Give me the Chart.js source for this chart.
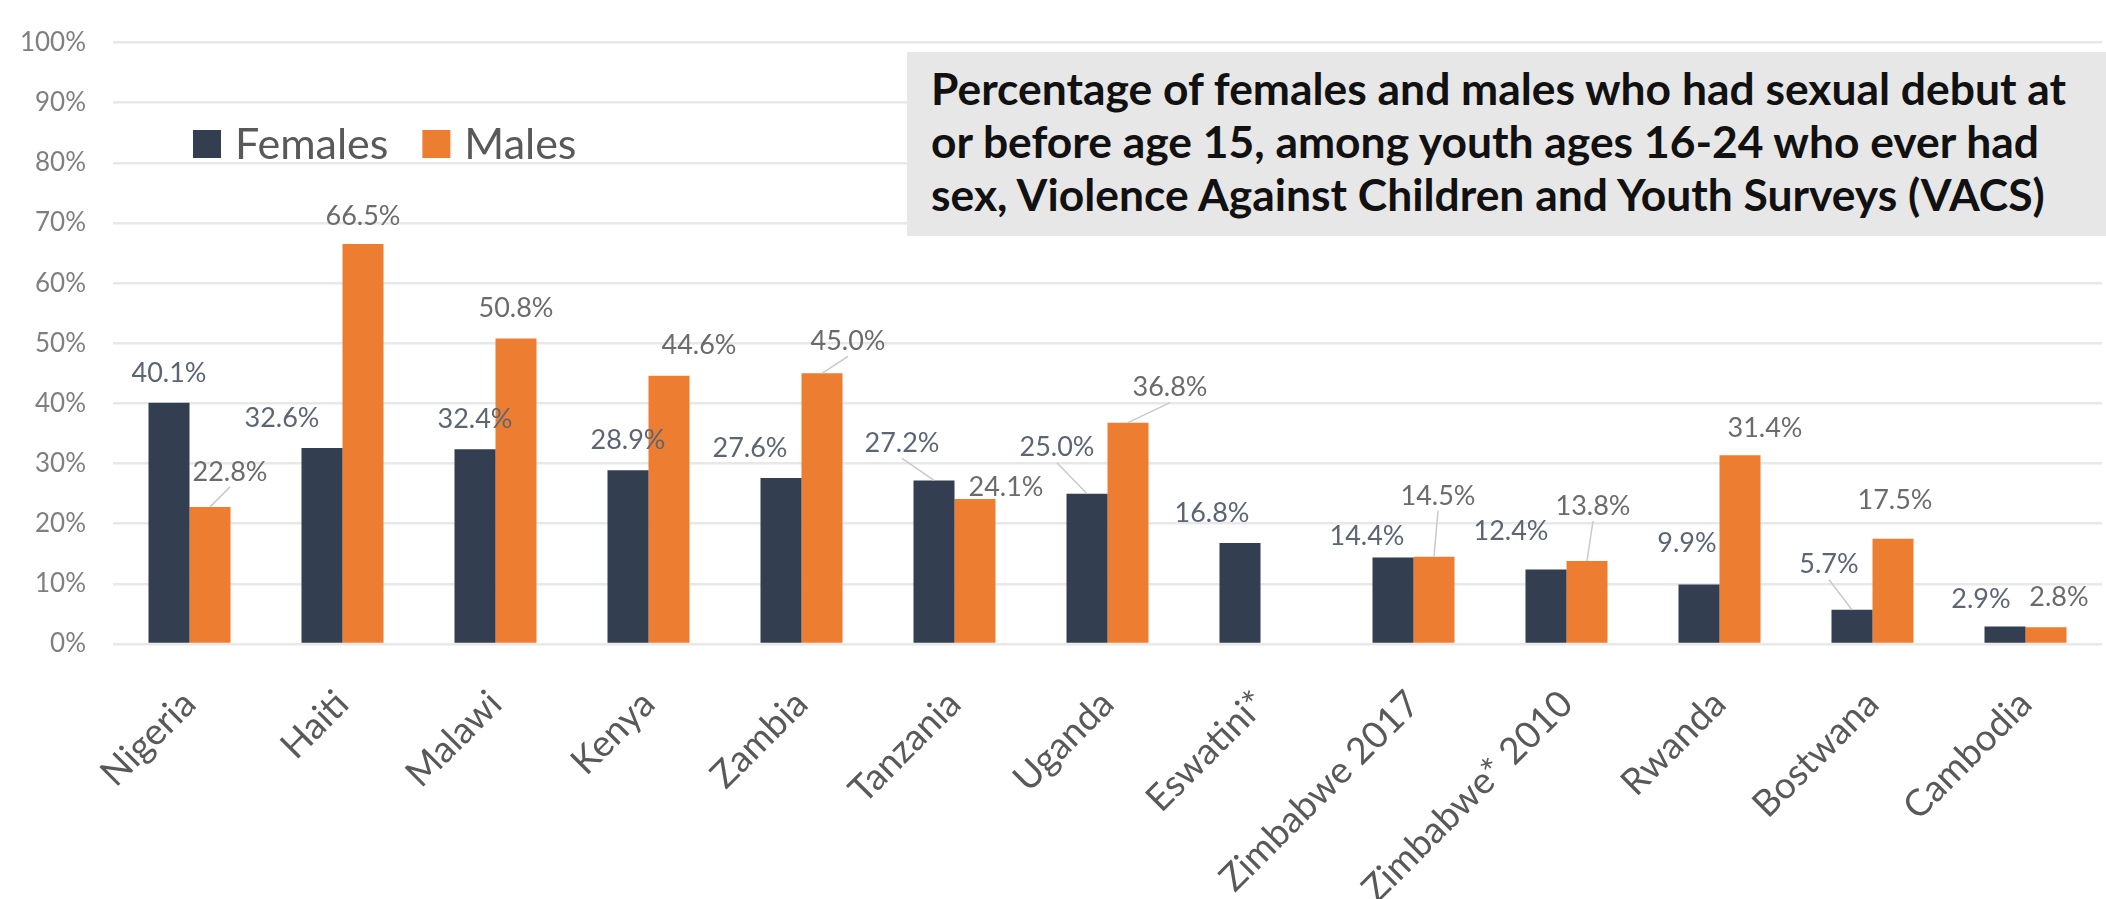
<!DOCTYPE html>
<html>
<head>
<meta charset="utf-8">
<script src="https://cdn.jsdelivr.net/npm/chart.js@4.4.0/dist/chart.umd.min.js"></script>
<style>
  html, body { margin: 0; padding: 0; background: #fff; }
  #wrap { position: relative; width: 2106px; height: 899px; overflow: hidden; }
  #title-box {
    position: absolute; left: 907px; top: 52px; width: 1199px; height: 184px;
    background: #e7e7e7; box-sizing: border-box; padding: 10px 0 0 24px;
    font-family: Lato, "Open Sans", sans-serif; font-weight: bold; font-size: 44px;
    line-height: 53px; color: #111; white-space: nowrap;
  }
  #title-inner { transform-origin: left top; display: inline-block; }
</style>
</head>
<body>
<div id="wrap">
  <canvas id="chart" width="2106" height="899"></canvas>
  <div id="title-box"><div id="title-inner">
    <span id="title-line1">Percentage of females and males who had sexual debut at</span><br>
    or before age 15, among youth ages 16-24 who ever had<br>
    sex, Violence Against Children and Youth Surveys (VACS)
  </div></div>
</div>
<script>
// data
const countries = ["Nigeria", "Haiti", "Malawi", "Kenya", "Zambia", "Tanzania", "Uganda",
  "Eswatini*", "Zimbabwe 2017", "Zimbabwe* 2010", "Rwanda", "Bostwana", "Cambodia"];
const females = [40.1, 32.6, 32.4, 28.9, 27.6, 27.2, 25.0, 16.8, 14.4, 12.4, 9.9, 5.7, 2.9];
const males = [22.8, 66.5, 50.8, 44.6, 45.0, 24.1, 36.8, null, 14.5, 13.8, 31.4, 17.5, 2.8];
const yMax = 100;
const yStep = 10;

// label nudges [dx, dy, leader line] like the hand-placed labels in the original
const femaleLabelPos = [[0, 0, 0], [-40, 0, 0], [0, 0, 0], [0, 0, 0], [-31, 0, 0], [-32, -7, 1], [-30, -16, 1],
  [-28, 0, 0], [-26, 9, 0], [-35, -8, 0], [-12, -11, 0], [-23, -15, 1], [-24, 3, 0]];
const maleLabelPos = [[20, -5, 1], [0, 2, 0], [0, 0, 0], [30, 0, 0], [26, -2, 1], [31, 18, 0], [42, -5, 1],
  [0, 0, 0], [4, -31, 1], [6, -25, 1], [25, 3, 0], [2, -8, 0], [13, 0, 0]];

const femaleColor = "#333f50";
const maleColor = "#ed7d31";
const fontFamily = "Lato, 'Open Sans', sans-serif";

// fit the title's first line to the width it has in the original
function fitTitle() {
  const line = document.getElementById("title-line1");
  const w = line.getBoundingClientRect().width;
  document.getElementById("title-inner").style.transform = `scaleX(${1135 / w})`;
}

const barLabels = {
  id: "barLabels",
  afterDatasetsDraw(chart) {
    const ctx = chart.ctx;
    ctx.save();
    ctx.font = `27px ${fontFamily}`;
    ctx.textAlign = "center";
    ctx.textBaseline = "middle";
    chart.data.datasets.forEach((ds, i) => {
      const meta = chart.getDatasetMeta(i);
      const nudges = i === 0 ? femaleLabelPos : maleLabelPos;
      meta.data.forEach((bar, j) => {
        const v = ds.data[j];
        if (v === null || v === undefined) return;
        const [dx, dy, leader] = nudges[j];
        const lx = bar.x + dx;
        const ly = bar.y - 30 + dy;
        if (leader) {
          ctx.strokeStyle = "#c9c9c9";
          ctx.lineWidth = 1.5;
          ctx.beginPath();
          ctx.moveTo(lx, ly + 15);
          ctx.lineTo(bar.x, bar.y);
          ctx.stroke();
        }
        ctx.fillStyle = i === 0 ? "#5c6574" : "#6b6b6b";
        ctx.fillText(v.toFixed(1) + "%", lx, ly);
      });
    });
    ctx.restore();
  }
};

const legendBox = {
  id: "legendBox",
  afterDraw(chart) {
    const ctx = chart.ctx;
    ctx.save();
    ctx.font = `43px ${fontFamily}`;
    ctx.textBaseline = "middle";
    ctx.textAlign = "left";
    let x = 193;
    chart.data.datasets.forEach((ds) => {
      ctx.fillStyle = ds.backgroundColor;
      ctx.fillRect(x, 130, 28, 28);
      ctx.fillStyle = "#595959";
      ctx.fillText(ds.label, x + 42, 145);
      x += 42 + ctx.measureText(ds.label).width + 34;
    });
    ctx.restore();
  }
};

const ctx = document.getElementById("chart").getContext("2d");
new Chart(ctx, {
  type: "bar",
  data: {
    labels: countries,
    datasets: [
      { label: "Females", data: females, backgroundColor: femaleColor },
      { label: "Males", data: males, backgroundColor: maleColor }
    ]
  },
  options: {
    responsive: false,
    animation: false,
    layout: { padding: { top: 22, right: 4, left: 0, bottom: 0 } },
    datasets: { bar: { categoryPercentage: 0.536, barPercentage: 1.0 } },
    plugins: { legend: { display: false }, tooltip: { enabled: false } },
    scales: {
      x: {
        grid: { display: false },
        border: { display: false },
        ticks: {
          font: { family: fontFamily, size: 37 },
          color: "#595959",
          minRotation: 45,
          maxRotation: 45,
          padding: 30,
          autoSkip: false
        },
        afterFit: (scale) => { scale.height = 255; }
      },
      y: {
        min: 0,
        max: yMax,
        grid: { color: "#e8e8e8", lineWidth: 2.5, drawTicks: false },
        border: { display: false },
        ticks: {
          stepSize: yStep,
          font: { family: fontFamily, size: 26 },
          color: "#7f7f7f",
          padding: 27,
          callback: (v) => v + "%"
        },
        afterFit: (scale) => { scale.width = 113; }
      }
    }
  },
  plugins: [barLabels, legendBox]
});

fitTitle();
</script>
</body>
</html>
